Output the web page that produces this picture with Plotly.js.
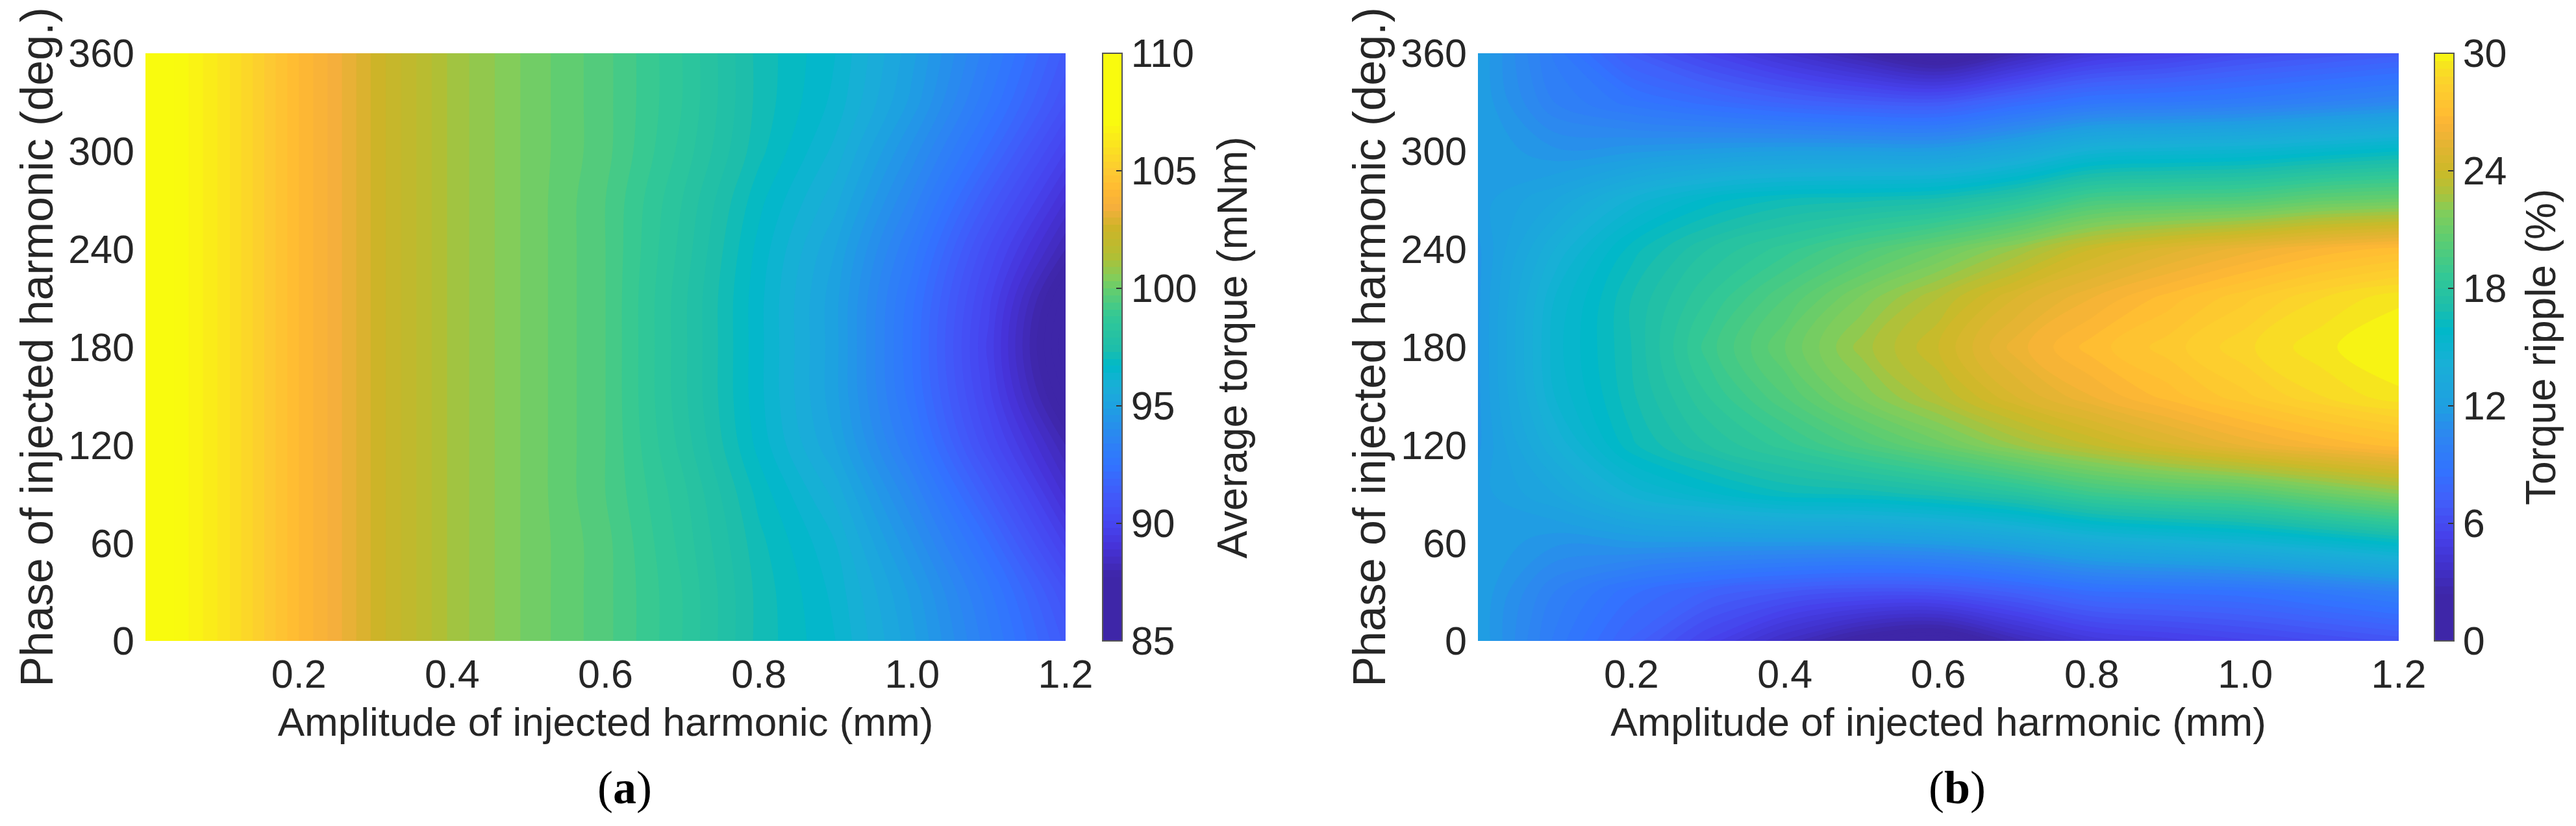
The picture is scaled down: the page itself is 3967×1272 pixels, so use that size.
<!DOCTYPE html>
<html>
<head>
<meta charset="utf-8">
<script src="https://cdn.plot.ly/plotly-3.0.1.min.js"></script>
<style>html,body{margin:0;padding:0;background:#fff}#chart{width:3967px;height:1272px}</style>
</head>
<body>
<div id="chart"></div>
<script>
// Amplitude of injected harmonic (mm)
var amplitudes = [0, 0.1, 0.2, 0.3, 0.4, 0.5, 0.6, 0.7, 0.8, 0.9, 1.0, 1.1, 1.2];
// Phase of injected harmonic (deg.)
var phases = [0, 30, 60, 90, 120, 150, 180, 210, 240, 270, 300, 330, 360];

// Average torque (mNm): one row per phase, one column per amplitude
var averageTorque = [
  [107.8, 106.2, 104.2, 102.6, 101.1, 100.2, 99.5, 98.5, 97.2, 96.4, 95.0, 93.2, 91.2],
  [107.8, 106.2, 104.2, 102.6, 101.1, 100.2, 99.5, 98.5, 97.2, 96.3, 94.8, 92.9, 90.7],
  [107.8, 106.2, 104.2, 102.6, 101.1, 100.2, 99.5, 98.4, 97.1, 96.1, 94.3, 92.2, 89.7],
  [107.8, 106.2, 104.2, 102.6, 101.1, 100.2, 99.4, 98.3, 96.9, 95.7, 93.7, 91.3, 88.8],
  [107.8, 106.2, 104.2, 102.6, 101.1, 100.2, 99.4, 98.1, 96.6, 95.2, 93.0, 90.4, 88.0],
  [107.8, 106.2, 104.2, 102.6, 101.1, 100.2, 99.4, 98.0, 96.5, 95.0, 92.6, 89.9, 87.0],
  [107.8, 106.2, 104.2, 102.6, 101.1, 100.2, 99.4, 98.0, 96.5, 95.0, 92.5, 89.7, 86.5],
  [107.8, 106.2, 104.2, 102.6, 101.1, 100.2, 99.4, 98.0, 96.5, 95.0, 92.6, 89.9, 86.9],
  [107.8, 106.2, 104.2, 102.6, 101.1, 100.2, 99.4, 98.1, 96.6, 95.2, 93.0, 90.4, 88.0],
  [107.8, 106.2, 104.2, 102.6, 101.1, 100.2, 99.4, 98.2, 96.8, 95.6, 93.6, 91.2, 88.9],
  [107.8, 106.2, 104.2, 102.6, 101.1, 100.2, 99.5, 98.4, 97.1, 96.0, 94.2, 92.1, 89.8],
  [107.8, 106.2, 104.2, 102.6, 101.1, 100.2, 99.5, 98.5, 97.2, 96.3, 94.8, 92.8, 90.7],
  [107.8, 106.2, 104.2, 102.6, 101.1, 100.2, 99.5, 98.5, 97.2, 96.4, 95.0, 93.2, 91.2]
];

// Torque ripple (%): one row per phase, one column per amplitude
var torqueRipple = [
  [12.0,  9.5,  7.5,  5.5,  3.5,  1.8,  1.0,  3.0,  4.5,  5.0,  5.5,  6.0,  6.5],
  [12.0, 10.0,  8.5,  7.5,  6.8,  6.4,  6.5,  7.3,  8.3,  8.5,  8.7,  9.3, 10.0],
  [12.0, 11.3, 11.5, 11.5, 11.5, 11.5, 11.8, 12.5, 13.5, 14.0, 14.5, 15.2, 16.0],
  [11.8, 12.8, 14.5, 15.5, 16.3, 16.5, 17.0, 17.8, 19.0, 19.6, 20.0, 21.0, 22.0],
  [11.5, 14.0, 16.3, 17.6, 18.6, 19.8, 21.0, 22.4, 23.6, 24.7, 25.7, 26.4, 27.0],
  [11.5, 14.8, 16.7, 18.4, 20.0, 21.7, 23.2, 24.8, 26.0, 27.0, 27.9, 28.8, 29.5],
  [11.5, 15.0, 16.8, 19.0, 20.8, 22.6, 24.0, 25.8, 27.0, 27.8, 28.7, 29.5, 30.0],
  [11.5, 14.8, 16.8, 18.4, 20.0, 21.7, 23.2, 24.8, 26.0, 27.0, 27.9, 28.8, 29.5],
  [11.5, 14.0, 16.2, 17.6, 18.6, 19.8, 21.0, 22.4, 24.0, 25.0, 25.8, 26.5, 27.0],
  [11.8, 12.8, 14.5, 15.8, 16.5, 16.7, 17.0, 18.0, 19.5, 19.8, 20.0, 20.7, 21.0],
  [12.0, 11.3, 11.5, 11.8, 12.0, 12.0, 12.0, 13.0, 14.5, 14.8, 15.0, 15.5, 16.0],
  [12.0, 10.0,  9.0,  8.2,  7.5,  7.0,  6.8,  8.0,  9.0,  9.2,  9.5, 10.0, 10.5],
  [12.0,  9.5,  7.0,  5.5,  4.0,  2.5,  1.0,  2.8,  4.5,  5.2,  6.0,  6.5,  7.0]
];

var phaseTicks = [0, 60, 120, 180, 240, 300, 360];
var amplitudeTicks = [0.2, 0.4, 0.6, 0.8, 1.0, 1.2];
var amplitudeTickLabels = ['0.2', '0.4', '0.6', '0.8', '1.0', '1.2'];
var torqueTicks = [85, 90, 95, 100, 105, 110];
var rippleTicks = [0, 6, 12, 18, 24, 30];

var amplitudeTitle = 'Amplitude of injected harmonic (mm)';
var phaseTitle = 'Phase of injected harmonic (deg.)';
var torqueTitle = 'Average torque (mNm)';
var rippleTitle = 'Torque ripple (%)';

var torqueScale = [
  [0, 'rgb(62,38,168)'], [0.11, 'rgb(62,38,168)'], [0.16, 'rgb(70,50,215)'], [0.20, 'rgb(70,70,240)'],
  [0.25, 'rgb(65,90,250)'], [0.30, 'rgb(50,115,255)'], [0.338, 'rgb(45,130,245)'], [0.40, 'rgb(30,160,225)'],
  [0.435, 'rgb(25,175,215)'], [0.47, 'rgb(0,185,200)'], [0.50, 'rgb(30,190,170)'], [0.555, 'rgb(50,200,150)'],
  [0.60, 'rgb(100,205,110)'], [0.62, 'rgb(130,205,90)'], [0.66, 'rgb(180,190,50)'], [0.705, 'rgb(205,180,40)'],
  [0.74, 'rgb(245,175,60)'], [0.77, 'rgb(255,185,50)'], [0.80, 'rgb(253,200,50)'], [0.888, 'rgb(249,251,14)'],
  [1, 'rgb(249,251,14)']
];
var rippleScale = [
  [0, 'rgb(62,38,168)'], [0.08, 'rgb(62,38,168)'], [0.13, 'rgb(65,50,205)'], [0.18, 'rgb(70,65,235)'],
  [0.24, 'rgb(65,95,250)'], [0.29, 'rgb(50,115,255)'], [0.35, 'rgb(45,135,240)'], [0.40, 'rgb(30,160,225)'],
  [0.47, 'rgb(25,175,215)'], [0.53, 'rgb(0,185,200)'], [0.57, 'rgb(30,190,170)'], [0.62, 'rgb(50,200,150)'],
  [0.68, 'rgb(90,205,115)'], [0.73, 'rgb(130,205,90)'], [0.76, 'rgb(170,195,60)'], [0.80, 'rgb(205,185,40)'],
  [0.84, 'rgb(225,180,50)'], [0.88, 'rgb(250,180,55)'], [0.90, 'rgb(255,190,50)'], [0.95, 'rgb(252,210,45)'],
  [0.985, 'rgb(245,232,28)'], [1, 'rgb(249,251,14)']
];

var W = 3967, H = 1272;
var ink = '#262626';
var sans = 'Liberation Sans, Arial, sans-serif';
var tickFont = {family: sans, size: 61, color: ink};
var xTitleFont = {family: sans, size: 62, color: ink};
var yTitleFont = {family: sans, size: 70, color: ink};
var cbTitleFont = {family: sans, size: 64, color: ink};

function cbar(left, ticks) {
  return {
    x: left / W, xref: 'paper', xanchor: 'left', xpad: 0,
    y: 1 - 534.5 / H, yref: 'paper', yanchor: 'middle', ypad: 0,
    thickness: 30, thicknessmode: 'pixels', len: 905, lenmode: 'pixels',
    outlinecolor: '#555', outlinewidth: 2,
    ticks: 'inside', ticklen: 10, tickwidth: 2, tickcolor: '#333',
    tickmode: 'array', tickvals: ticks, ticktext: ticks.map(String),
    tickfont: tickFont
  };
}
function panel(z, zmin, zmax, step, scale, cb, xa, ya) {
  return {
    type: 'contour', x: amplitudes, y: phases, z: z, xaxis: xa, yaxis: ya,
    zmin: zmin, zmax: zmax, colorscale: scale, autocontour: false,
    contours: {start: zmin, end: zmax, size: step, coloring: 'fill', showlines: false},
    line: {width: 0}, colorbar: cb, hoverinfo: 'skip'
  };
}
function xAxis(l, r, anchor) {
  return {
    domain: [l / W, r / W], anchor: anchor, range: [0, 1.2],
    tickmode: 'array', tickvals: amplitudeTicks, ticktext: amplitudeTickLabels,
    ticks: '', ticklen: 0, ticklabelstandoff: 10, tickfont: tickFont,
    showgrid: false, zeroline: false, showline: false,
    title: {text: amplitudeTitle, font: xTitleFont, standoff: 18}
  };
}
function yAxis(anchor) {
  return {
    domain: [1 - 987 / H, 1 - 82 / H], anchor: anchor, range: [0, 360],
    tickmode: 'array', tickvals: phaseTicks, ticks: '', ticklen: 0, ticklabelstandoff: 16,
    tickfont: tickFont,
    showgrid: false, zeroline: false, showline: false,
    title: {text: phaseTitle, font: yTitleFont, standoff: 0}
  };
}
function note(text, x, y, font, angle) {
  return {text: text, x: x / W, y: 1 - y / H, xref: 'paper', yref: 'paper',
    xanchor: 'center', yanchor: 'middle', showarrow: false, font: font, textangle: angle || 0};
}
var serif = {family: 'Liberation Serif, Times New Roman, serif', size: 72, color: '#000'};

var data = [
  panel(averageTorque, 85, 110, 0.3, torqueScale, cbar(1698, torqueTicks), 'x', 'y'),
  panel(torqueRipple, 0, 30, 0.4, rippleScale, cbar(3749, rippleTicks), 'x2', 'y2')
];
var layout = {
  width: W, height: H, margin: {l: 0, r: 0, t: 0, b: 0},
  paper_bgcolor: '#fff', plot_bgcolor: '#fff', showlegend: false,
  xaxis: xAxis(224, 1641, 'y'), yaxis: yAxis('x'),
  xaxis2: xAxis(2276, 3694, 'y2'), yaxis2: yAxis('x2'),
  annotations: [
    note(torqueTitle, 1898, 535, cbTitleFont, -90),
    note(rippleTitle, 3913, 535, cbTitleFont, -90),
    note('(<b>a</b>)', 962, 1213, serif),
    note('(<b>b</b>)', 3014, 1213, serif)
  ]
};
Plotly.newPlot('chart', data, layout, {displayModeBar: false, staticPlot: true});
</script>
</body>
</html>
